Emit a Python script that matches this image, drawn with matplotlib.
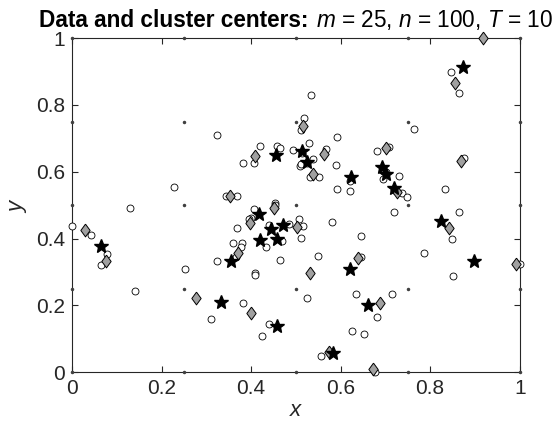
import numpy as np
import matplotlib
matplotlib.use("Agg")
from matplotlib import pyplot as plt
from matplotlib.offsetbox import TextArea, HPacker, AnnotationBbox

# data points (n = 100, some hidden under other markers)
data_x = [0.847, 0.864, 0.534, 0.519, 0.512, 0.765, 0.592, 0.530, 0.494, 0.567,
          0.539, 0.509, 0.512, 0.532, 0.552, 0.589, 0.621, 0.592, 0.620, 0.707,
          0.681, 0.695, 0.730, 0.737, 0.749, 0.833, 0.876, 0.323, 0.420, 0.407,
          0.381, 0.457, 0.465, 0.227, 0.343, 0.368, 0.130, 0.407, 0.453, 0.454,
          0.000, 0.042, 0.078, 0.064, 0.140, 0.252, 0.310, 0.323, 0.360, 0.379,
          0.377, 0.369, 0.400, 0.396, 0.408, 0.408, 0.381, 0.440, 0.425, 0.433,
          0.469, 0.485, 0.508, 0.517, 0.511, 0.465, 0.524, 0.580, 0.719, 0.864,
          0.848, 0.645, 0.549, 0.645, 0.786, 1.000, 0.852, 0.635, 0.714, 0.682,
          0.625, 0.652, 0.556, 0.676, 0.439, 0.366, 0.514, 0.526, 0.701, 0.719]
data_y = [0.899, 0.835, 0.829, 0.760, 0.725, 0.729, 0.705, 0.687, 0.665, 0.667,
          0.637, 0.617, 0.623, 0.585, 0.584, 0.620, 0.573, 0.549, 0.542, 0.675,
          0.663, 0.579, 0.587, 0.535, 0.525, 0.549, 0.640, 0.709, 0.677, 0.626,
          0.627, 0.677, 0.670, 0.554, 0.527, 0.527, 0.491, 0.488, 0.507, 0.500,
          0.438, 0.410, 0.353, 0.321, 0.243, 0.310, 0.160, 0.334, 0.388, 0.388,
          0.374, 0.433, 0.462, 0.458, 0.297, 0.291, 0.207, 0.144, 0.109, 0.374,
          0.392, 0.444, 0.458, 0.438, 0.403, 0.337, 0.223, 0.449, 0.479, 0.480,
          0.398, 0.409, 0.348, 0.346, 0.356, 0.324, 0.287, 0.234, 0.235, 0.166,
          0.124, 0.115, 0.049, 0.001, 0.441, 0.346, 0.655, 0.625, 0.598, 0.545]

# initial grid (m = 25)
grid_vals = [0.0, 0.25, 0.5, 0.75, 1.0]

# cluster centers (diamonds)
cent_x = [0.917, 0.855, 0.517, 0.564, 0.538, 0.701, 0.725, 0.868, 0.409, 0.353,
          0.452, 0.029, 0.077, 0.278, 0.370, 0.398, 0.400, 0.503, 0.532, 0.843,
          0.639, 0.992, 0.687, 0.574, 0.673]
cent_y = [0.999, 0.864, 0.737, 0.653, 0.593, 0.670, 0.538, 0.632, 0.647, 0.528,
          0.491, 0.426, 0.333, 0.223, 0.356, 0.448, 0.178, 0.436, 0.296, 0.433,
          0.341, 0.323, 0.208, 0.060, 0.009]

# stars
star_x = [0.873, 0.514, 0.526, 0.623, 0.692, 0.701, 0.719, 0.455, 0.065, 0.332,
          0.355, 0.418, 0.458, 0.421, 0.444, 0.458, 0.471, 0.825, 0.897, 0.620,
          0.661, 0.583]
star_y = [0.914, 0.662, 0.630, 0.583, 0.615, 0.593, 0.550, 0.650, 0.379, 0.210,
          0.332, 0.473, 0.139, 0.396, 0.428, 0.399, 0.440, 0.454, 0.334, 0.309,
          0.200, 0.057]

tick_vals = [0, 0.2, 0.4, 0.6, 0.8, 1]
tick_labels = ['0', '0.2', '0.4', '0.6', '0.8', '1']

plt.rcParams['font.family'] = ['Liberation Sans', 'DejaVu Sans']
plt.rcParams['mathtext.fontset'] = 'custom'
plt.rcParams['mathtext.rm'] = 'Liberation Sans'
plt.rcParams['mathtext.it'] = 'Liberation Sans:italic'
plt.rcParams['mathtext.bf'] = 'Liberation Sans:bold'

fig = plt.figure(figsize=(5.55, 4.33), dpi=100)
ax = fig.add_axes([0.1297, 0.1402, 0.8067, 0.772])

axcol = '#262626'
diamond = [(0, 1), (0.73, 0), (0, -1), (-0.73, 0), (0, 1)]

gx, gy = np.meshgrid(grid_vals, grid_vals)
ax.plot(data_x, data_y, 'o', ms=5, mfc='white', mec='black', mew=0.6,
        zorder=3, clip_on=False)
ax.plot(gx.ravel(), gy.ravel(), '.', ms=3, color='#404040', zorder=4, clip_on=False)
ax.plot(cent_x, cent_y, linestyle='none', marker=diamond, ms=9.2, mfc='#a0a0a0',
        mec='black', mew=0.7, zorder=5, clip_on=False)
ax.plot(star_x, star_y, '*', ms=10.5, color='black', zorder=6, clip_on=False)

ax.set_xlim(0, 1)
ax.set_ylim(0, 1)
ax.set_xticks(tick_vals)
ax.set_yticks(tick_vals)
ax.set_xticklabels(tick_labels)
ax.set_yticklabels(tick_labels)
ax.tick_params(direction='in', top=True, right=True, length=4, width=0.8,
               colors=axcol, labelsize=15, pad=5)
for s in ax.spines.values():
    s.set_color(axcol)
    s.set_linewidth(0.8)

ax.set_xlabel('$x$', fontsize=16, color=axcol, labelpad=1)
ax.set_ylabel('$y$', fontsize=16, color=axcol, labelpad=5)

# title: bold part + regular part with italic symbols
t1 = TextArea('Data and cluster centers:', textprops=dict(fontsize=16.3, fontweight='bold'))
t2 = TextArea('$m$ = 25, $n$ = 100, $T$ = 10', textprops=dict(fontsize=16.3))
box = HPacker(children=[t1, t2], align='baseline', pad=0, sep=5)
ab = AnnotationBbox(box, (0.5, 1.0), xycoords='axes fraction', box_alignment=(0.5, 0),
                    xybox=(0, 4.5), boxcoords='offset points', frameon=False,
                    annotation_clip=False)
ax.add_artist(ab)

fig.savefig('out.png', dpi=100)
